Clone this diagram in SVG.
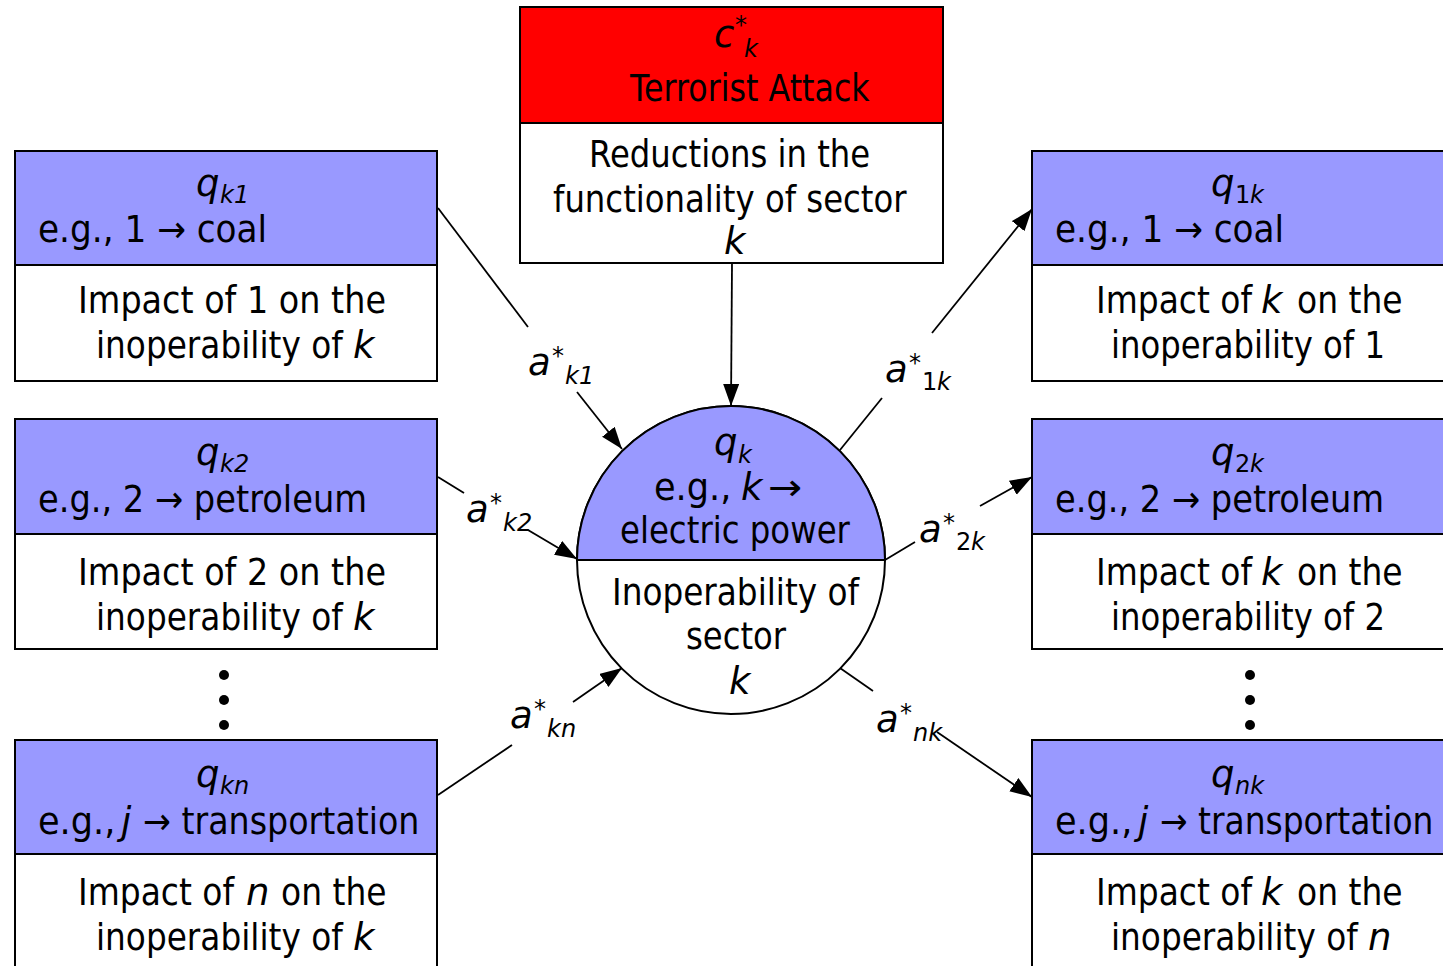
<svg xmlns="http://www.w3.org/2000/svg" width="1443" height="966" viewBox="0 0 1443 966">
  <defs>
    <style>
      .box { fill: #ffffff; stroke: #000000; stroke-width: 2; }
      .head { fill: #9999FF; stroke: #000000; stroke-width: 2; }
      .red { fill: #FF0000; stroke: #000000; stroke-width: 2; }
      text { font-family: "DejaVu Sans", "Liberation Sans", sans-serif; font-size: 37px; fill: #000000; }
      .it { font-style: italic; }
      .up { font-style: normal; }
      .sm { font-size: 24px; }
      .conn line { stroke: #000000; stroke-width: 1.8; fill: none; }
      .arr { marker-end: url(#head); }
      .dot { fill: #000000; }
    </style>
    <marker id="head" markerUnits="userSpaceOnUse" markerWidth="24" markerHeight="18" refX="22" refY="8" orient="auto">
      <path d="M0,0 L22,8 L0,16 Z" fill="#000000"/>
    </marker>
  </defs>

  <rect width="1443" height="966" fill="#ffffff"/>

  <!-- attack node -->
  <g id="node-attack">
    <rect class="red" x="520" y="7" width="423" height="116"/>
    <rect class="box" x="520" y="123" width="423" height="140"/>
    <text x="714" y="47" class="it">c<tspan class="sm up" x="735" y="33">*</tspan><tspan class="sm" x="744" y="57">k</tspan></text>
    <text transform="matrix(0.857 0 0 1 630 101)">Terrorist Attack</text>
    <text transform="matrix(0.873 0 0 1 589 167)">Reductions in the</text>
    <text transform="matrix(0.874 0 0 1 553 212)">functionality of sector</text>
    <text x="724" y="254" class="it">k</text>
  </g>

  <!-- central sector node -->
  <g id="node-center">
    <circle cx="731" cy="560" r="154" fill="#ffffff" stroke="#000000" stroke-width="2"/>
    <path d="M577,560 A154,154 0 0 1 885,560 Z" class="head"/>
    <text x="714" y="455" class="it">q<tspan class="sm" x="738" y="463">k</tspan></text>
    <text transform="matrix(0.95 0 0 1 654 500)">e.g.,</text>
    <text x="741" y="500" class="it">k</text>
    <text transform="matrix(1.1 0 0 1 768 500)">→</text>
    <text transform="matrix(0.876 0 0 1 620 543)">electric power</text>
    <text transform="matrix(0.885 0 0 1 612 605)">Inoperability of</text>
    <text transform="matrix(0.872 0 0 1 686 649)">sector</text>
    <text x="729" y="694" class="it">k</text>
  </g>

  <!-- left column -->
  <g id="node-qk1">
    <rect class="box" x="15" y="151" width="422" height="230"/>
    <rect class="head" x="15" y="151" width="422" height="114"/>
    <text x="196" y="196" class="it">q<tspan class="sm" x="220" y="203">k1</tspan></text>
    <text transform="matrix(0.927 0 0 1 38 242)">e.g., 1 → coal</text>
    <text transform="matrix(0.903 0 0 1 78 313)">Impact of 1 on the</text>
    <text transform="matrix(0.886 0 0 1 96 358)">inoperability of</text>
    <text x="353" y="358" class="it">k</text>
  </g>

  <g id="node-qk2">
    <rect class="box" x="15" y="419" width="422" height="230"/>
    <rect class="head" x="15" y="419" width="422" height="115"/>
    <text x="196" y="465" class="it">q<tspan class="sm" x="220" y="472">k2</tspan></text>
    <text transform="matrix(0.91 0 0 1 38 512)">e.g., 2 → petroleum</text>
    <text transform="matrix(0.903 0 0 1 78 585)">Impact of 2 on the</text>
    <text transform="matrix(0.886 0 0 1 96 630)">inoperability of</text>
    <text x="353" y="630" class="it">k</text>
  </g>

  <g id="dots-left">
    <circle class="dot" cx="224" cy="675" r="5"/>
    <circle class="dot" cx="224" cy="700" r="5"/>
    <circle class="dot" cx="224" cy="725" r="5"/>
  </g>

  <g id="node-qkn">
    <rect class="box" x="15" y="740" width="422" height="240"/>
    <rect class="head" x="15" y="740" width="422" height="114"/>
    <text x="196" y="787" class="it">q<tspan class="sm" x="220" y="794">kn</tspan></text>
    <text transform="matrix(0.95 0 0 1 38 834)">e.g.,</text>
    <text x="121" y="834" class="it">j</text>
    <text transform="matrix(0.9 0 0 1 143 834)">→ transportation</text>
    <text transform="matrix(0.89 0 0 1 78 905)">Impact of</text>
    <text x="246" y="905" class="it">n</text>
    <text transform="matrix(0.89 0 0 1 281 905)">on the</text>
    <text transform="matrix(0.886 0 0 1 96 950)">inoperability of</text>
    <text x="353" y="950" class="it">k</text>
  </g>

  <!-- right column -->
  <g id="node-q1k">
    <rect class="box" x="1032" y="151" width="420" height="230"/>
    <rect class="head" x="1032" y="151" width="420" height="114"/>
    <text x="1211" y="196" class="it">q<tspan class="sm up" x="1235" y="203">1</tspan><tspan class="sm" x="1250" y="203">k</tspan></text>
    <text transform="matrix(0.927 0 0 1 1055 242)">e.g., 1 → coal</text>
    <text transform="matrix(0.89 0 0 1 1096 313)">Impact of</text>
    <text x="1261" y="313" class="it">k</text>
    <text transform="matrix(0.89 0 0 1 1297 313)">on the</text>
    <text transform="matrix(0.873 0 0 1 1111 358)">inoperability of 1</text>
  </g>

  <g id="node-q2k">
    <rect class="box" x="1032" y="419" width="420" height="230"/>
    <rect class="head" x="1032" y="419" width="420" height="115"/>
    <text x="1211" y="465" class="it">q<tspan class="sm up" x="1235" y="472">2</tspan><tspan class="sm" x="1250" y="472">k</tspan></text>
    <text transform="matrix(0.91 0 0 1 1055 512)">e.g., 2 → petroleum</text>
    <text transform="matrix(0.89 0 0 1 1096 585)">Impact of</text>
    <text x="1261" y="585" class="it">k</text>
    <text transform="matrix(0.89 0 0 1 1297 585)">on the</text>
    <text transform="matrix(0.873 0 0 1 1111 630)">inoperability of 2</text>
  </g>

  <g id="dots-right">
    <circle class="dot" cx="1250" cy="675" r="5"/>
    <circle class="dot" cx="1250" cy="700" r="5"/>
    <circle class="dot" cx="1250" cy="725" r="5"/>
  </g>

  <g id="node-qnk">
    <rect class="box" x="1032" y="740" width="420" height="240"/>
    <rect class="head" x="1032" y="740" width="420" height="114"/>
    <text x="1211" y="787" class="it">q<tspan class="sm" x="1235" y="794">nk</tspan></text>
    <text transform="matrix(0.95 0 0 1 1055 834)">e.g.,</text>
    <text x="1138" y="834" class="it">j</text>
    <text transform="matrix(0.89 0 0 1 1160 834)">→ transportation</text>
    <text transform="matrix(0.89 0 0 1 1096 905)">Impact of</text>
    <text x="1261" y="905" class="it">k</text>
    <text transform="matrix(0.89 0 0 1 1297 905)">on the</text>
    <text transform="matrix(0.886 0 0 1 1111 950)">inoperability of</text>
    <text x="1368" y="950" class="it">n</text>
  </g>

  <!-- connectors with their coefficient labels -->
  <g id="connectors" class="conn">
    <line class="arr" x1="732" y1="264" x2="731" y2="406"/>

    <line x1="438" y1="208" x2="528" y2="327"/>
    <line class="arr" x1="577" y1="392" x2="622" y2="449"/>

    <line x1="438" y1="477" x2="464" y2="493"/>
    <line class="arr" x1="528" y1="530" x2="577" y2="559"/>

    <line x1="438" y1="795" x2="512" y2="745"/>
    <line class="arr" x1="573" y1="702" x2="622" y2="668"/>

    <line x1="840" y1="450" x2="882" y2="398"/>
    <line class="arr" x1="932" y1="333" x2="1032" y2="209"/>

    <line x1="885" y1="560" x2="915" y2="542"/>
    <line class="arr" x1="980" y1="506" x2="1032" y2="477"/>

    <line x1="840" y1="668" x2="873" y2="691"/>
    <line class="arr" x1="937" y1="732" x2="1032" y2="797"/>

    <g id="labels">
      <text x="528" y="375" class="it">a<tspan class="sm up" x="552" y="364">*</tspan><tspan class="sm" x="565" y="384">k1</tspan></text>
      <text x="466" y="522" class="it">a<tspan class="sm up" x="490" y="511">*</tspan><tspan class="sm" x="503" y="531">k2</tspan></text>
      <text x="510" y="728" class="it">a<tspan class="sm up" x="534" y="717">*</tspan><tspan class="sm" x="547" y="737">kn</tspan></text>
      <text x="885" y="382" class="it">a<tspan class="sm up" x="909" y="371">*</tspan><tspan class="sm up" x="922" y="390">1</tspan><tspan class="sm" x="937" y="390">k</tspan></text>
      <text x="919" y="542" class="it">a<tspan class="sm up" x="943" y="531">*</tspan><tspan class="sm up" x="956" y="550">2</tspan><tspan class="sm" x="971" y="550">k</tspan></text>
      <text x="876" y="732" class="it">a<tspan class="sm up" x="900" y="721">*</tspan><tspan class="sm" x="913" y="741">nk</tspan></text>
    </g>
  </g>
</svg>
